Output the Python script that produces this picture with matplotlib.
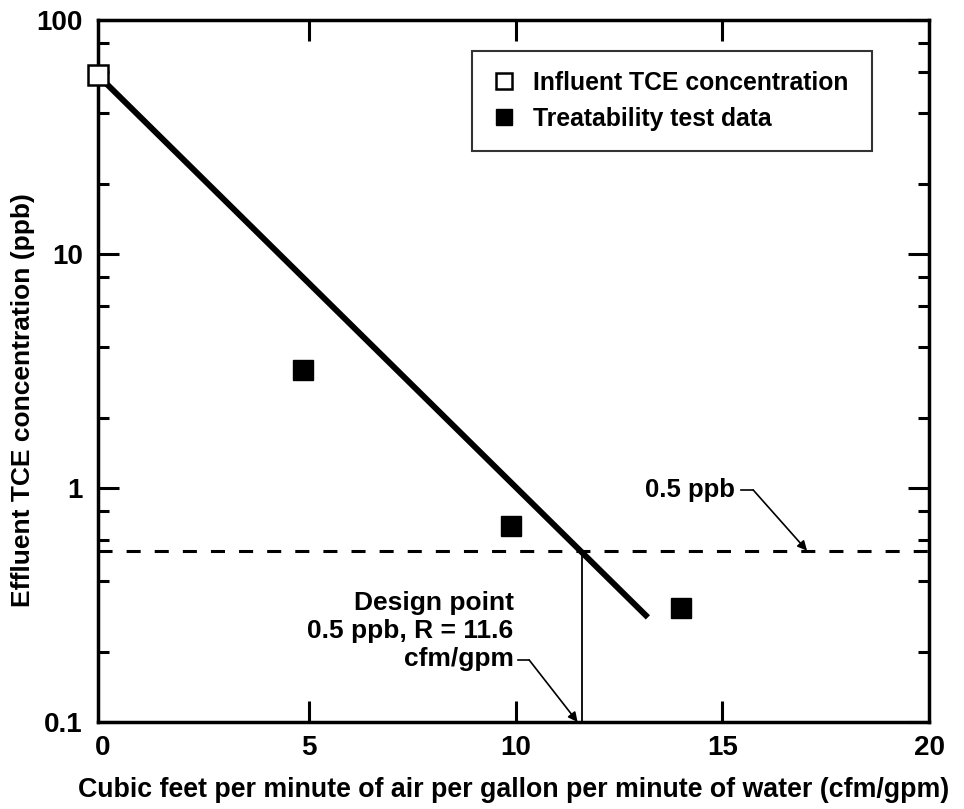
import numpy as np
import matplotlib.pyplot as plt
from matplotlib.ticker import FixedLocator, NullFormatter

plt.rcParams['font.family'] = ['Liberation Sans', 'DejaVu Sans']
plt.rcParams['font.weight'] = 'bold'
plt.rcParams['axes.labelweight'] = 'bold'

# data
influentX = [-0.1]
influentY = [58.0]
testX = [4.85, 9.9, 14.0]
testY = [3.2, 0.69, 0.307]
fitX = [-0.1, 13.2]
fitY = [58.0, 0.28]
limitY = 0.54
designX = 11.6

fig = plt.figure(figsize=(9.64, 8.09), dpi=100)
ax = fig.add_axes([0.1017, 0.1075, 0.862, 0.8677])
ax.set_yscale('log')
ax.set_xlim(-0.1, 20)
ax.set_ylim(0.1, 100)

ax.plot(fitX, fitY, color='black', lw=4.3, solid_capstyle='butt', zorder=3)
ax.axhline(limitY, color='black', lw=2.2, linestyle=(0, (4.6, 4.6)), zorder=2)
ax.plot([designX, designX], [0.1, limitY], color='black', lw=1.3, zorder=2)

ax.plot(testX, testY, 's', color='black', ms=14.5, zorder=4,
        label='Treatability test data')
ax.plot(influentX, influentY, 's', mfc='white', mec='black', mew=1.8, ms=14.5,
        zorder=5, clip_on=False, label='Influent TCE concentration')

# annotations
ax.text(15.3, 0.98, '0.5 ppb', ha='right', va='center', fontsize=18.5)
ax.plot([15.45, 15.75], [0.98, 0.98], color='black', lw=1.2)
ax.annotate('', xy=(17.05, limitY), xytext=(15.75, 0.98),
            arrowprops=dict(arrowstyle='-|>', color='black', lw=1.2,
                            mutation_scale=14, shrinkA=0, shrinkB=0))
ax.text(9.95, 0.245, 'Design point\n0.5 ppb, R = 11.6\ncfm/gpm', ha='right',
        va='center', fontsize=19, linespacing=1.2)
ax.plot([10.07, 10.33], [0.184, 0.184], color='black', lw=1.2)
ax.annotate('', xy=(11.5, 0.1), xytext=(10.33, 0.184),
            arrowprops=dict(arrowstyle='-|>', color='black', lw=1.2,
                            mutation_scale=14, shrinkA=0, shrinkB=0))

# ticks
ax.xaxis.set_major_locator(FixedLocator([0, 5, 10, 15, 20]))
ax.yaxis.set_major_locator(FixedLocator([0.1, 1, 10, 100]))
minors = [m * d for d in [0.1, 1, 10] for m in [2, 4, 6, 8]]
ax.yaxis.set_minor_locator(FixedLocator(minors))
ax.yaxis.set_minor_formatter(NullFormatter())
ax.set_yticklabels(['0.1', '1', '10', '100'])
ax.tick_params(which='both', direction='in', top=True, right=True,
               width=2.2, labelsize=20, colors='black')
ax.tick_params(which='major', length=15, pad=9)
ax.tick_params(axis='y', which='major', pad=11)
ax.tick_params(which='minor', length=8)
xt = ax.xaxis.get_major_ticks()
for t in (xt[0], xt[-1]):
    t.tick1line.set_visible(False)
    t.tick2line.set_visible(False)
for s in ax.spines.values():
    s.set_linewidth(2.5)

ax.set_xlabel('Cubic feet per minute of air per gallon per minute of water (cfm/gpm)',
              fontsize=19.3, labelpad=12)
ax.set_ylabel('Effluent TCE concentration (ppb)', fontsize=19)
ax.yaxis.set_label_coords(-0.076, 0.459)

h, l = ax.get_legend_handles_labels()
leg = ax.legend(h[::-1], l[::-1], loc='upper left', bbox_to_anchor=(0.45, 0.956, 0.481, 0.0),
                mode='expand', fontsize=17.8, frameon=True, fancybox=False,
                markerscale=0.8, handlelength=1.0, handletextpad=0.65,
                borderpad=0.8, labelspacing=0.5, borderaxespad=0)
leg.get_frame().set_edgecolor('black')
leg.get_frame().set_linewidth(1.5)

fig.savefig('out.png', dpi=100)
